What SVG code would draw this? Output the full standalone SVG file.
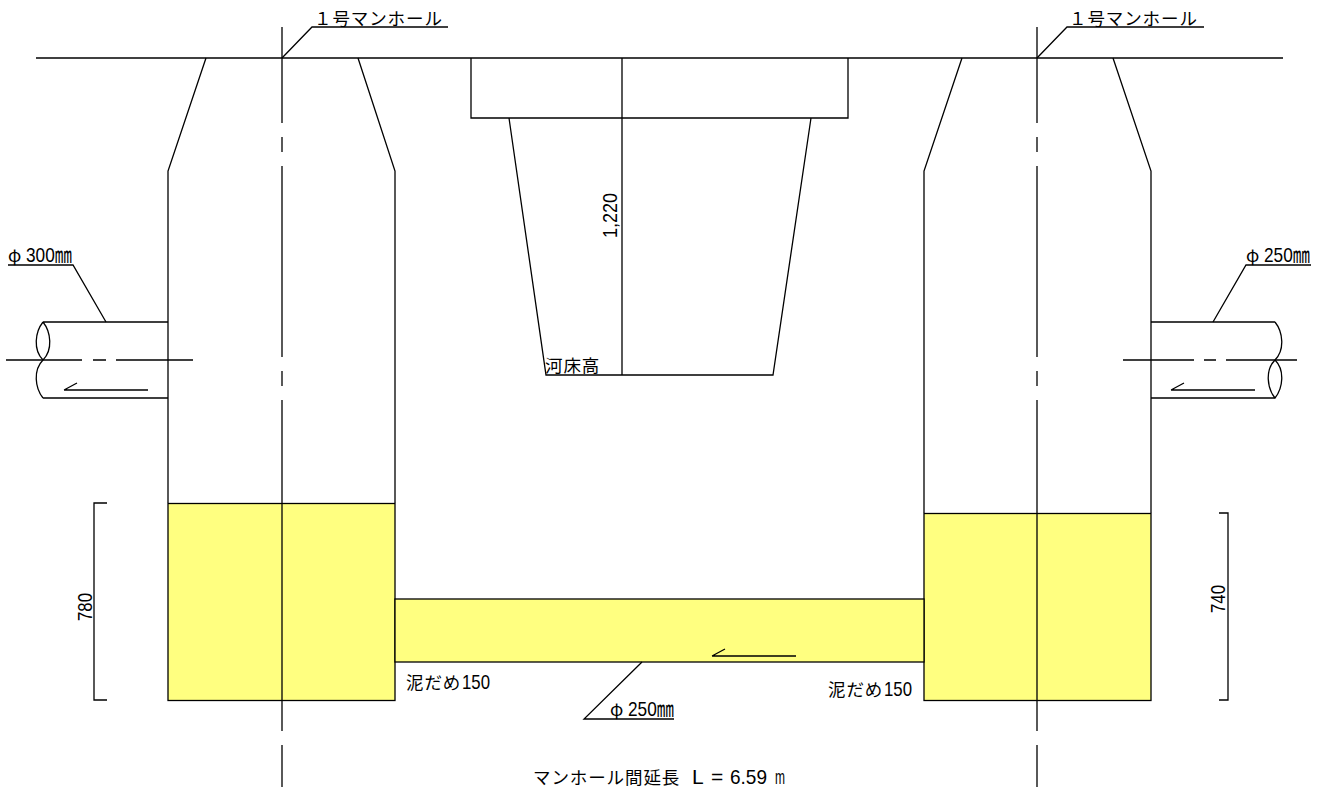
<svg xmlns="http://www.w3.org/2000/svg" width="1327" height="787" viewBox="0 0 1327 787">
<style>
.l{fill:none;stroke:#000;stroke-width:1.3}
.y{fill:#ffff80;stroke:#000;stroke-width:1.3}
text{font-family:"Noto Sans CJK JP","Liberation Sans",sans-serif;fill:#000;font-size:17.500px;letter-spacing:.9px}
.n{font-family:"Liberation Sans","Noto Sans CJK JP",sans-serif;font-size:21px;letter-spacing:0}
</style>
<rect width="1327" height="787" fill="#fff"/>
<g id="fill-areas">
<rect class="y" x="168" y="503.500" width="227" height="197"/>
<rect class="y" x="924" y="513.500" width="227" height="187"/>
<rect class="y" x="395" y="599" width="529" height="63"/>
</g>
<g id="connectors">
<path class="l" d="M36 58H1283"/>
<path class="l" d="M206 58L168 171V503M358 58L395 171V503"/>
<path class="l" d="M962 58L924 171V513M1113 58L1151 171V513"/>
<path class="l" d="M471 58V118H848V58M509 118L546 375H773L811 118M622 58V375"/>
<path class="l" d="M282 27V123M282 137V152M282 166V357M282 371V386M282 400V731M282 745V787"/>
<path class="l" d="M1037 27V123M1037 137V152M1037 166V357M1037 371V386M1037 400V731M1037 745V787"/>
<path class="l" d="M282 58L312 27H448M1037 58L1067 27H1204"/>
<path class="l" d="M43 322H168M43 398H168M43 322C35 332 33 350 43 360C53 350 51 332 43 322M43 360C33 370 35 388 43 398"/>
<path class="l" d="M6 360H82M93 360H106M116 360H193"/>
<path class="l" d="M8 265H73L106 322"/>
<path class="l" d="M64 390H148M64 390L77 383"/>
<path class="l" d="M1151 322H1275M1151 398H1275M1275 322C1283 332 1285 350 1275 360C1265 370 1267 388 1275 398C1283 388 1285 370 1275 360"/>
<path class="l" d="M1123 360H1194M1204 360H1216M1226 360H1297"/>
<path class="l" d="M1311 265H1246L1213 322"/>
<path class="l" d="M1171 390H1255M1171 390L1184 383"/>
<path class="l" d="M712 656H796M712 656L725 649"/>
<path class="l" d="M642 662L584 719H674"/>
<path class="l" d="M107 503H94V700H107M1219 513H1228V700H1219"/>
</g>
<g id="labels">
<text x="314" y="25">１号マンホール</text>
<text x="1069" y="25">１号マンホール</text>
<text x="8" y="262">φ<tspan class="n" x="26" textLength="46" lengthAdjust="spacingAndGlyphs">300㎜</tspan></text>
<text x="1246" y="262">φ<tspan class="n" x="1264" textLength="46" lengthAdjust="spacingAndGlyphs">250㎜</tspan></text>
<text x="610" y="716">φ<tspan class="n" x="628" textLength="46" lengthAdjust="spacingAndGlyphs">250㎜</tspan></text>
<text x="545" y="372">河床高</text>
<text x="406" y="689">泥だめ<tspan class="n" x="462" textLength="28" lengthAdjust="spacingAndGlyphs">150</tspan></text>
<text x="828" y="696">泥だめ<tspan class="n" x="884" textLength="28" lengthAdjust="spacingAndGlyphs">150</tspan></text>
<text x="533" y="784">マンホール間延長<tspan class="n" x="692">L</tspan><tspan class="n" x="711">=</tspan><tspan class="n" x="730" textLength="37" lengthAdjust="spacingAndGlyphs">6.59</tspan><tspan class="n" x="775" textLength="10" lengthAdjust="spacingAndGlyphs">m</tspan></text>
<text class="n" transform="translate(617 238) rotate(-90)" textLength="45" lengthAdjust="spacingAndGlyphs">1,220</text>
<text class="n" transform="translate(92 621) rotate(-90)" textLength="28" lengthAdjust="spacingAndGlyphs">780</text>
<text class="n" transform="translate(1225 613) rotate(-90)" textLength="28" lengthAdjust="spacingAndGlyphs">740</text>
</g>
</svg>
